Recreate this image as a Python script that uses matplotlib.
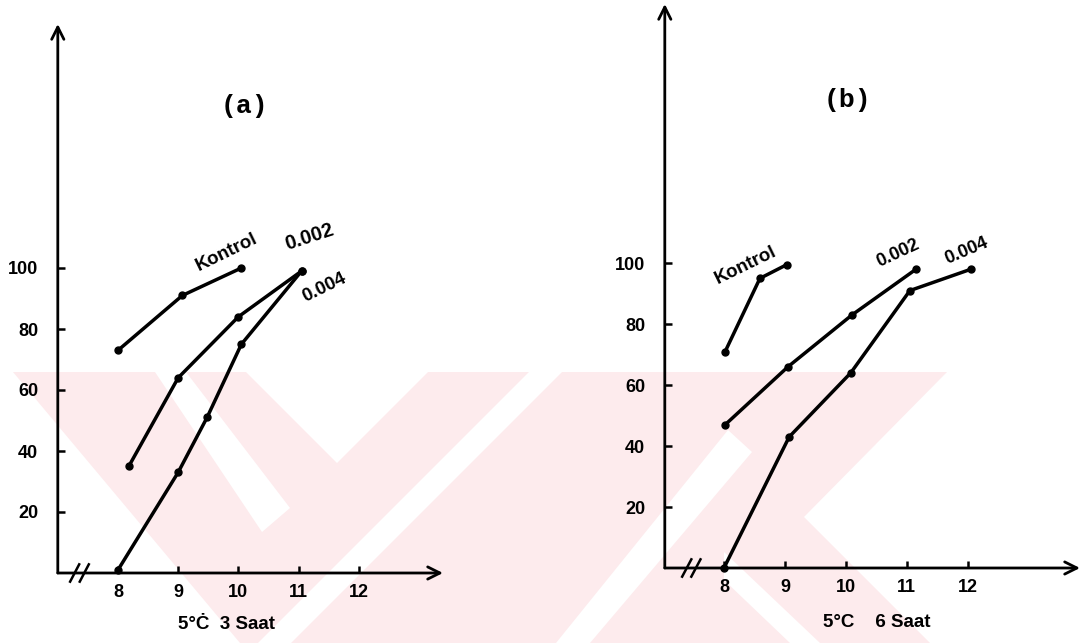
import matplotlib
matplotlib.use("Agg")
import matplotlib.pyplot as plt
from matplotlib.patches import Polygon

# ---------------- data ----------------
x_ticks = [8, 9, 10, 11, 12]
y_ticks = [20, 40, 60, 80, 100]

# panel (a): 5°C 3 Saat
a_kontrol_x = [8.0, 9.07, 10.05]
a_kontrol_y = [73, 91, 100]
a_002_x = [8.18, 9.0, 10.0, 11.05]
a_002_y = [35, 64, 84, 99]
a_004_x = [8.0, 9.0, 9.48, 10.05, 11.05]
a_004_y = [1, 33, 51, 75, 99]

# panel (b): 5°C 6 Saat
b_kontrol_x = [8.02, 8.59, 9.03]
b_kontrol_y = [71, 95, 99.5]
b_002_x = [8.02, 9.05, 10.1, 11.15]
b_002_y = [47, 66, 83, 98]
b_004_x = [8.0, 9.07, 10.08, 11.05, 12.05]
b_004_y = [0, 43, 64, 91, 98]

W, H = 1086, 643
fig = plt.figure(figsize=(W / 100, H / 100), dpi=100)
fig.patch.set_facecolor("white")

# ---------------- background watermark ----------------
bg = fig.add_axes([0, 0, 1, 1], zorder=0)
bg.set_xlim(0, W)
bg.set_ylim(H, 0)
bg.axis("off")
pink = "#fdebed"
bg.add_patch(Polygon([(13, 372), (947, 372), (804, 517), (930, 643), (240, 643)],
                     closed=True, facecolor=pink, edgecolor="none"))
for poly in [
    [(155, 372), (186, 372), (290, 508), (262, 532)],
    [(246, 372), (428, 372), (337, 463)],
    [(529, 372), (562, 372), (291, 643), (258, 643)],
    [(728, 430), (752, 452), (590, 643), (556, 643)],
    [(724, 552), (724, 580), (790, 643), (820, 643)],
]:
    bg.add_patch(Polygon(poly, closed=True, facecolor="white", edgecolor="none"))

LABEL_FONT = ["Liberation Sans", "DejaVu Sans"]
MONO_FONT = ["Liberation Mono", "DejaVu Sans Mono"]


def make_panel(rect, xlim, ylim, series, texts, title, title_xy, xlabel, xlabel_xy, breaks):
    ax = fig.add_axes(rect, zorder=1)
    ax.set_facecolor("none")
    ax.set_xlim(*xlim)
    ax.set_ylim(*ylim)
    for s in ax.spines.values():
        s.set_visible(False)
    # axes with arrows
    ax.annotate("", xy=(1, 0), xytext=(0, 0), xycoords="axes fraction",
                arrowprops=dict(arrowstyle="->", lw=2.0, color="black",
                                mutation_scale=22, shrinkA=0, shrinkB=0),
                annotation_clip=False)
    ax.annotate("", xy=(0, 1), xytext=(0, 0), xycoords="axes fraction",
                arrowprops=dict(arrowstyle="->", lw=2.0, color="black",
                                mutation_scale=22, shrinkA=0, shrinkB=0),
                annotation_clip=False)
    ax.set_xticks(x_ticks)
    ax.set_yticks(y_ticks)
    ax.set_xticklabels([str(v) for v in x_ticks], family=LABEL_FONT,
                       fontweight="bold", fontsize=13)
    ax.set_yticklabels([str(v) for v in y_ticks], family=LABEL_FONT,
                       fontweight="bold", fontsize=13)
    ax.tick_params(axis="x", direction="in", length=5, width=1.8, pad=8)
    ax.tick_params(axis="y", direction="in", length=5, width=1.8, pad=14)
    ax.tick_params(top=False, right=False)
    # axis break marks
    for c in breaks:
        ax.plot([c - 0.085, c + 0.085], [-3.2, 3.2], color="black", lw=1.8,
                clip_on=False, solid_capstyle="butt")
    for xs, ys in series:
        ax.plot(xs, ys, color="black", lw=2.5, marker="o", markersize=5,
                clip_on=False, solid_joinstyle="round")
    for (t, x, y, rot, fs) in texts:
        ax.text(x, y, t, rotation=rot, ha="center", va="center",
                family=LABEL_FONT, fontweight="bold", fontsize=fs,
                rotation_mode="anchor")
    ax.text(title_xy[0], title_xy[1], title, ha="center", va="center",
            family=MONO_FONT, fontsize=19, fontweight="bold")
    ax.text(xlabel_xy[0], xlabel_xy[1], xlabel, ha="center", va="center",
            family=LABEL_FONT, fontweight="bold", fontsize=13.5, clip_on=False)
    return ax


# panel (a)
make_panel(
    [57.8 / W, 70 / H, 385.2 / W, 549 / H], (7, 13.4), (0, 180),
    [(a_kontrol_x, a_kontrol_y), (a_002_x, a_002_y), (a_004_x, a_004_y)],
    [("Kontrol", 9.81, 105, 26, 13.5), ("0.002", 11.18, 110, 18, 14.5),
     ("0.004", 11.42, 93.4, 26, 13.5)],
    "(a)", (10.1, 153), "5°Ċ  3 Saat", (9.8, -17), [7.28, 7.44])

# panel (b)
make_panel(
    [664.8 / W, 75 / H, 415.2 / W, 564 / H], (7.03, 13.84), (0, 185),
    [(b_kontrol_x, b_kontrol_y), (b_002_x, b_002_y), (b_004_x, b_004_y)],
    [("Kontrol", 8.36, 99.3, 26, 13.5), ("0.002", 10.85, 103.3, 25, 13),
     ("0.004", 11.98, 104, 23, 13)],
    "(b)", (10.03, 153.4), "5°C    6 Saat", (10.5, -18), [7.39, 7.54])

fig.savefig("out.png", dpi=100, facecolor="white")
